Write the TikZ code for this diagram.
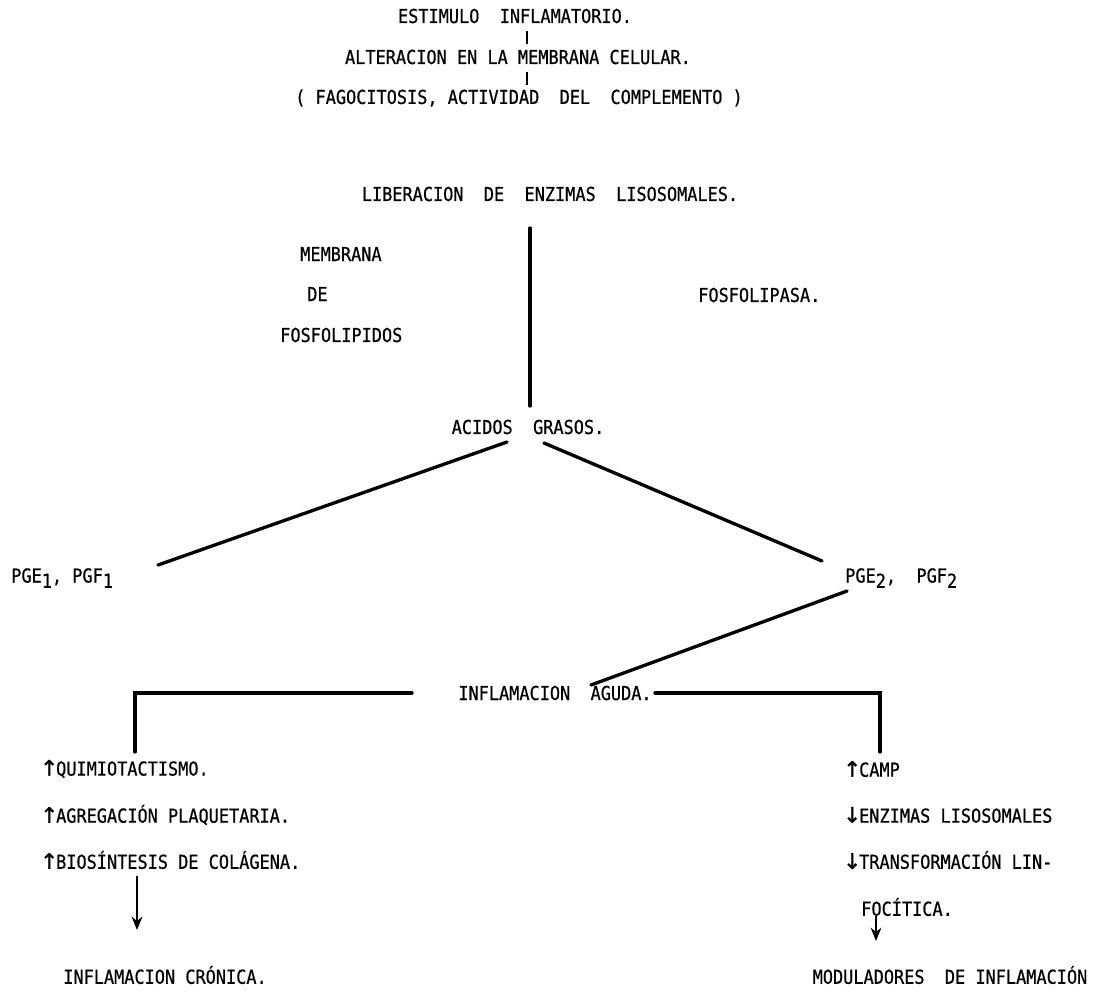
\documentclass[tikz,border=0pt]{standalone}
\usepackage{fontspec}
\setmainfont{DejaVu Sans Mono}[FakeStretch=0.88,FakeBold=0.6]
\newfontfamily\arrfont{DejaVu Sans}[FakeBold=1.5]
\usetikzlibrary{arrows.meta}
\newcommand{\sbx}[1]{\raisebox{-0.5ex}{#1}}
\newcommand{\up}{{\arrfont\fontsize{16}{16}\selectfont ↑}\kern-1.5pt}
\newcommand{\dn}{{\arrfont\fontsize{16}{16}\selectfont ↓}\kern-1.5pt}
\begin{document}
\begin{tikzpicture}[x=0.75pt,y=-0.75pt,
  txt/.style={inner sep=0pt, font=\fontsize{14.4}{16}\selectfont},
  ln/.style={line width=2.5pt, line cap=round},
  tk/.style={line width=2pt},
  arr/.style={line width=2pt, -{Stealth[length=10pt,width=8pt]}}]
\useasboundingbox (0,0) rectangle (1098,996);
\node[txt] (est) at (515,16) {ESTIMULO~~INFLAMATORIO.};
\node[txt] (alt) at (518,57) {ALTERACION EN LA MEMBRANA CELULAR.};
\node[txt] (fag) at (519,98) {(~FAGOCITOSIS, ACTIVIDAD~~DEL~~COMPLEMENTO~)};
\draw[tk] (527,31) -- (527,44);
\draw[tk] (527,72) -- (527,85);
\node[txt] (lib) at (550,194) {LIBERACION~~DE~~ENZIMAS~~LISOSOMALES.};
\node[txt, anchor=west] (mem) at (300,254) {MEMBRANA};
\node[txt, anchor=west] (de) at (307,294) {DE};
\node[txt, anchor=west] (fos) at (280,335) {FOSFOLIPIDOS};
\node[txt, anchor=west] (fsa) at (698,295) {FOSFOLIPASA.};
\node[txt] (aci) at (528,427) {ACIDOS~~GRASOS.};
\coordinate (vtop) at (530,228);
\draw[ln] (vtop) -- (530,406);
\node[txt, anchor=west] (pg1) at (11,578) {PGE\sbx{1}, PGF\sbx{1}};
\node[txt, anchor=west] (pg2) at (845,578) {PGE\sbx{2},~~PGF\sbx{2}};
\draw[ln] (507,442) -- (158,565);
\draw[ln] (544,443) -- (822,561);
\draw[ln] (847,591) -- (591,685);
\node[txt] (agu) at (555,693) {INFLAMACION~~AGUDA.};
\coordinate (lq) at (135,752);
\coordinate (rc) at (880,752);
\draw[ln] (412,693) -| (lq);
\draw[ln] (655,693) -| (rc);
\node[txt, anchor=west] (q1) at (40,769) {\up QUIMIOTACTISMO.};
\node[txt, anchor=west] (q2) at (40,815) {\up AGREGACIÓN PLAQUETARIA.};
\node[txt, anchor=west] (q3) at (40,860) {\up BIOSÍNTESIS DE COLÁGENA.};
\node[txt] (cro) at (165,975) {INFLAMACION CRÓNICA.};
\draw[arr] (137,876) -- (137,930);
\node[txt, anchor=west] (r1) at (843,769) {\up CAMP};
\node[txt, anchor=west] (r2) at (843,815) {\dn ENZIMAS LISOSOMALES};
\node[txt, anchor=west] (r3) at (843,860) {\dn TRANSFORMACIÓN LIN-};
\node[txt, anchor=west] (r4) at (861,907) {FOCÍTICA.};
\node[txt] (mod) at (950,975) {MODULADORES~~DE INFLAMACIÓN};
\draw[arr, line width=1.6pt] (876,916) -- (876,941);
\end{tikzpicture}
\end{document}
